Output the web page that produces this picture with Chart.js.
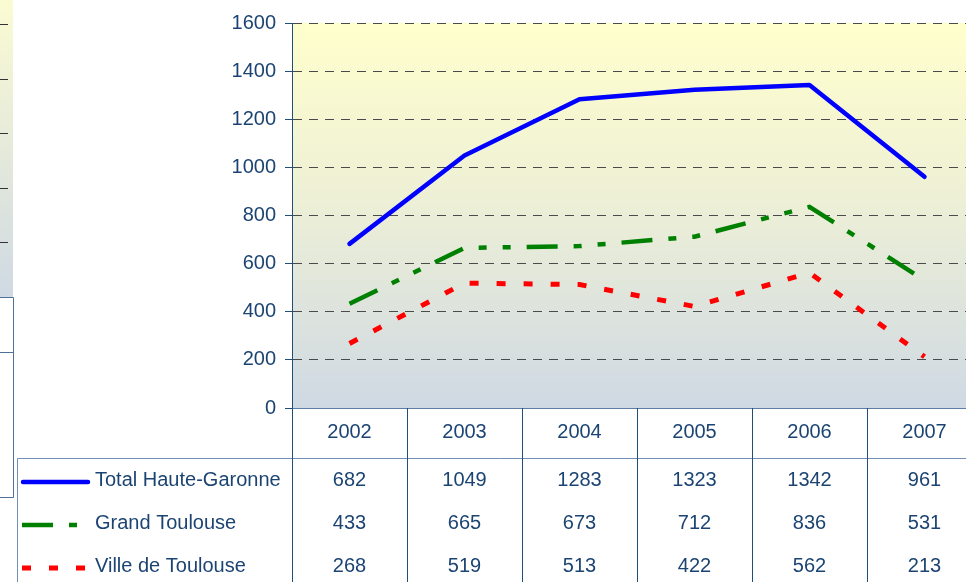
<!DOCTYPE html>
<html>
<head>
<meta charset="utf-8">
<script src="https://cdn.jsdelivr.net/npm/chart.js@4"></script>
<style>
  html, body { margin: 0; padding: 0; background: #fff; overflow: hidden; width: 966px; height: 582px; }
  #wrap { position: relative; width: 982px; height: 582px; }
</style>
</head>
<body>
<div id="wrap"><canvas id="lineChart" width="982" height="582"></canvas></div>
<script>
// data
const years = ['2002', '2003', '2004', '2005', '2006', '2007'];
const totalHauteGaronne = [682, 1049, 1283, 1323, 1342, 961];
const grandToulouse = [433, 665, 673, 712, 836, 531];
const villeDeToulouse = [268, 519, 513, 422, 562, 213];
const seriesNames = ['Total Haute-Garonne', 'Grand Toulouse', 'Ville de Toulouse'];

const textColor = '#1b4472';
const axisBlue = '#1f4e79';
const font = { family: 'Liberation Sans, Arial, sans-serif', size: 20 };

// bit of the neighbouring chart that is cut off on the left
const leftEdge = {
  id: 'leftEdge',
  beforeDraw(chart) {
    const ctx = chart.ctx;
    ctx.save();
    const g = ctx.createLinearGradient(0, 0, 0, 297);
    g.addColorStop(0, '#fbfbd2');
    g.addColorStop(1, '#cfd9e3');
    ctx.fillStyle = g;
    ctx.fillRect(0, 0, 13, 297);
    ctx.strokeStyle = '#333';
    ctx.lineWidth = 1;
    [24, 79, 133, 188, 242].forEach(y => {
      ctx.beginPath(); ctx.moveTo(0, y + 0.5); ctx.lineTo(8, y + 0.5); ctx.stroke();
    });
    ctx.strokeStyle = '#4f7099';
    ctx.beginPath();
    ctx.moveTo(0, 297.5); ctx.lineTo(13.5, 297.5); ctx.lineTo(13.5, 497.5); ctx.lineTo(0, 497.5);
    ctx.moveTo(0, 352.5); ctx.lineTo(13.5, 352.5);
    ctx.stroke();
    ctx.restore();
  }
};

// yellow to grey-blue plot background
const plotBackground = {
  id: 'plotBackground',
  beforeDraw(chart) {
    const { ctx, chartArea: a } = chart;
    ctx.save();
    const g = ctx.createLinearGradient(0, a.top, 0, a.bottom);
    g.addColorStop(0, '#ffffcc');
    g.addColorStop(0.45, '#eef0d6');
    g.addColorStop(1, '#cfd9e3');
    ctx.fillStyle = g;
    ctx.fillRect(a.left, a.top, a.right - a.left, a.bottom - a.top);
    ctx.restore();
  }
};

// data table under the x axis, with the legend in the first column
const dataTable = {
  id: 'dataTable',
  afterDraw(chart) {
    const { ctx, chartArea: a, scales: { x } } = chart;
    const half = (x.getPixelForValue(1) - x.getPixelForValue(0)) / 2;
    const rowLine = 458.5;
    const rowY = [480, 523, 566];
    const bottom = chart.height;
    ctx.save();

    ctx.lineWidth = 1;
    ctx.strokeStyle = '#7390b4';
    ctx.beginPath();
    ctx.moveTo(17.5, bottom); ctx.lineTo(17.5, rowLine); ctx.lineTo(a.right, rowLine);
    ctx.stroke();

    ctx.strokeStyle = axisBlue;
    ctx.beginPath();
    for (let i = 0; i <= years.length; i++) {
      const px = Math.round(x.getPixelForValue(0) - half + i * half * 2) + 0.5;
      ctx.moveTo(px, a.bottom); ctx.lineTo(px, bottom);
    }
    ctx.stroke();

    chart.data.datasets.forEach((ds, r) => {
      const y = rowY[r];
      ctx.save();
      ctx.strokeStyle = ds.borderColor;
      ctx.lineWidth = ds.borderWidth;
      ctx.lineCap = ds.borderCapStyle || 'butt';
      ctx.setLineDash(ds.borderDash || []);
      ctx.beginPath();
      ctx.moveTo(r === 0 ? 23 : 22, y + 2);
      ctx.lineTo(r === 0 ? 88 : 90, y + 2);
      ctx.stroke();
      ctx.restore();

      ctx.fillStyle = textColor;
      ctx.font = font.size + 'px ' + font.family;
      ctx.textBaseline = 'middle';
      ctx.textAlign = 'left';
      ctx.fillText(ds.label, 95, y);
      ctx.textAlign = 'center';
      ds.data.forEach((v, i) => ctx.fillText(String(v), x.getPixelForValue(i), y));
    });
    ctx.restore();
  }
};

new Chart(document.getElementById('lineChart'), {
  type: 'line',
  data: {
    labels: years,
    datasets: [
      {
        label: seriesNames[0],
        data: totalHauteGaronne,
        borderColor: '#0000ff',
        borderWidth: 4.5,
        borderCapStyle: 'round',
        borderJoinStyle: 'round',
        pointRadius: 0,
        tension: 0
      },
      {
        label: seriesNames[1],
        data: grandToulouse,
        borderColor: '#008000',
        borderWidth: 4.5,
        borderDash: [31, 16, 8, 16, 8, 16],
        pointRadius: 0,
        tension: 0
      },
      {
        label: seriesNames[2],
        data: villeDeToulouse,
        borderColor: '#ff0000',
        borderWidth: 5,
        borderDash: [9, 18],
        pointRadius: 0,
        tension: 0
      }
    ]
  },
  options: {
    responsive: false,
    animation: false,
    devicePixelRatio: 1,
    layout: { autoPadding: false, padding: { top: 23, left: 0, right: 0, bottom: 0 } },
    plugins: {
      legend: { display: false },
      tooltip: { enabled: false }
    },
    scales: {
      x: {
        type: 'category',
        offset: true,
        grid: { display: false },
        border: { display: true, color: '#5d7fa6', width: 1 },
        ticks: { color: textColor, font: font, padding: 4, maxRotation: 0 },
        afterFit(scale) { scale.height = 174; }
      },
      y: {
        min: 0,
        max: 1600,
        ticks: { stepSize: 200, color: textColor, font: font, padding: 9, callback: v => String(v) },
        grid: { color: '#4a4a4a', lineWidth: 1, tickColor: axisBlue, tickLength: 7, tickBorderDash: [] },
        border: { display: true, color: axisBlue, width: 1, dash: [9, 7] },
        afterFit(scale) { scale.width = 292; }
      }
    }
  },
  plugins: [leftEdge, plotBackground, dataTable]
});
</script>
</body>
</html>
